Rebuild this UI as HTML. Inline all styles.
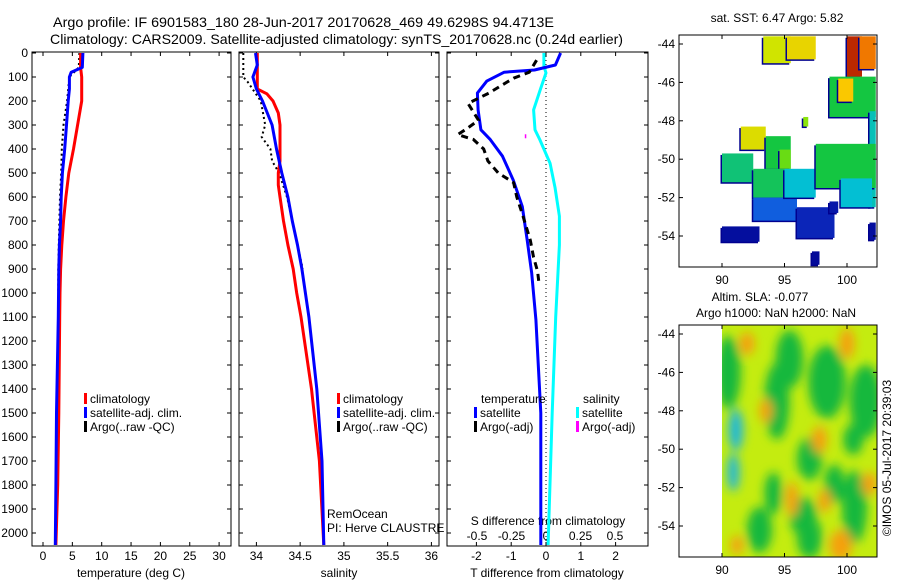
<!DOCTYPE html>
<html><head><meta charset="utf-8">
<style>
body{margin:0;background:#fff;}
svg{display:block;font-family:"Liberation Sans",sans-serif;}
text{font-size:12px;fill:#000;}
</style></head>
<body>
<svg id="c" width="900" height="580" viewBox="0 0 900 580" xmlns="http://www.w3.org/2000/svg">
<defs><filter id="blur" x="-20%" y="-20%" width="140%" height="140%"><feGaussianBlur stdDeviation="5"/></filter>
<clipPath id="slaclip"><rect x="722" y="325" width="155" height="232"/></clipPath></defs>
<text x="53" y="27" textLength="501" lengthAdjust="spacingAndGlyphs" style="font-size:14px">Argo profile: IF 6901583_180 28-Jun-2017 20170628_469 49.6298S 94.4713E</text>
<text x="50" y="44" textLength="573" lengthAdjust="spacingAndGlyphs" style="font-size:14px">Climatology: CARS2009. Satellite-adjusted climatology: synTS_20170628.nc (0.24d earlier)</text>
<g id="g"></g>
</svg>
<script>
// ---- data ----
const depthTicks=[0,100,200,300,400,500,600,700,800,900,1000,1100,1200,1300,1400,1500,1600,1700,1800,1900,2000];
const tempTicks=[0,5,10,15,20,25,30];
const salTicks=[34,34.5,35,35.5,36];
const tdTickVals=[-2,-1,0,1,2];
const tdTickLabels=['-2','-1','0','1','2'];
const sdTickVals=[-0.5,-0.25,0,0.25,0.5];
const sdTickLabels=['-0.5','-0.25','0','0.25','0.5'];

const tClimDepth=[0,60,100,200,300,400,500,600,700,800,900,1000,1100,1500,1800,2050];
const tClim=[6.4,6.4,6.6,6.6,5.9,5.2,4.4,3.9,3.5,3.2,3.0,2.9,2.85,2.7,2.5,2.2];
const tSatDepth=[0,60,80,100,150,200,300,400,500,600,700,800,900,1100,1500,1800,2050];
const tSat=[6.8,6.7,4.8,4.5,4.5,4.3,4.0,3.7,3.3,3.1,3.0,2.8,2.7,2.6,2.3,2.2,2.1];
const tArgoDepth=[0,60,100,200,300,400,500,600,700,800,900,1000];
const tArgo=[6.2,6.1,4.5,4.1,3.5,3.2,3.1,2.9,2.8,2.7,2.6,2.6];

const sClimDepth=[0,150,170,200,250,300,450,500,550,600,700,800,900,1000,1100,1400,1700,2050];
const sClim=[34.01,34.01,34.12,34.19,34.25,34.27,34.27,34.25,34.25,34.27,34.31,34.36,34.42,34.46,34.51,34.63,34.72,34.77];
const sSatDepth=[0,50,100,150,200,300,400,500,600,700,800,900,1000,1100,1400,1700,2050];
const sSat=[33.99,34.01,33.96,34.0,34.07,34.18,34.23,34.29,34.36,34.41,34.47,34.52,34.56,34.6,34.69,34.75,34.77];
const sArgoDepth=[0,100,120,200,300,350,400,450,500,600,700,800,900];
const sArgo=[33.85,33.85,33.9,34.05,34.1,34.06,34.16,34.18,34.26,34.35,34.41,34.47,34.53];

const dTSatDepth=[0,50,71,80,117,167,237,320,361,430,530,640,780,917,1111,1500,2050];
const dTSat=[0.42,0.27,-0.33,-1.2,-1.7,-1.97,-1.95,-1.87,-1.6,-1.25,-0.94,-0.68,-0.54,-0.41,-0.29,-0.15,-0.15];
const dTArgoDepth=[30,80,105,135,167,210,280,315,340,360,400,450,500,540,600,680,780,850,910,960];
const dTArgo=[-0.27,-0.48,-0.93,-1.28,-1.64,-2.24,-1.94,-2.27,-2.54,-2.09,-1.79,-1.67,-1.37,-0.93,-0.84,-0.66,-0.45,-0.36,-0.24,-0.2];
const dSSatDepth=[0,55,83,150,237,320,361,460,560,680,800,1100,1500,2050];
const dSSat=[-0.015,-0.015,0,-0.04,-0.09,-0.08,-0.045,0.03,0.065,0.097,0.097,0.07,0.045,0.015];
const dSArgoDepth=[347];
const dSArgo=[-0.15];

const mapLonTicks=[90,95,100];
const mapLatTicks=[-44,-46,-48,-50,-52,-54];
const sstLon0=[93.3,95.2,100,101,98.6,99.3,101.8,91.5,93.5,94.6,90,92.5,92.5,95,97.5,99.5,90,96,97.2,98.6,96.5,101.8];
const sstLon1=[95.5,97.5,101.2,102.3,102.3,100.5,102.3,93.5,95.5,95.5,92.5,95,96,97.5,102.3,102,93,99,97.8,99.3,96.9,102.3];
const sstLat0=[-43.6,-43.6,-43.6,-43.6,-45.7,-45.8,-47.5,-48.3,-48.8,-49.5,-49.7,-50.5,-52,-50.5,-49.2,-51,-53.5,-52.5,-54.8,-52.2,-47.8,-53.3];
const sstLat1=[-45.0,-44.8,-45.7,-45.3,-47.8,-47.0,-52.5,-49.5,-50.5,-50.5,-51.2,-52,-53.2,-52,-51.5,-52.5,-54.3,-54.1,-55.5,-52.8,-48.3,-54.2];
const sstVal=[0.68,0.72,0.95,0.85,0.5,0.75,0.35,0.7,0.5,0.6,0.42,0.45,0.18,0.32,0.5,0.32,0.03,0.08,0.02,0.05,0.62,0.03];
const slaLon=[90.5,91.1,90.9,94.4,95.4,97,98.4,99,101.5,100.6,94.1,96.5,97,93,100.5,99.5,92,95.6,98.2,91.2,100,97.8,93.5,101.8];
const slaLat=[-46,-49,-51.2,-47.5,-45.3,-50.5,-46.5,-51.8,-47.5,-53,-52.3,-53.5,-54.6,-54.2,-49.5,-55,-44.5,-52.6,-52.7,-55,-44.5,-49.5,-48,-51.8];
const slaRx=[1.0,0.6,0.5,1.0,1.1,1.0,1.5,0.8,1.3,1.0,0.7,1.1,1.0,1.0,0.8,0.9,0.6,0.5,0.5,0.5,0.6,0.6,0.5,0.6];
const slaRy=[1.9,1.1,1.0,2.0,1.5,1.1,1.9,1.0,1.9,1.9,1.1,1.0,1.1,1.2,0.8,0.8,0.6,0.9,0.6,0.5,0.8,0.7,0.6,0.6];
const slaKind=['g','c','c','g','g','g','g','g','g','g','g','g','g','g','g','o','o','o','o','o','o','o','o','o'];

// ---- scales ----
const yD=d=>53+d*0.24;
const xT=t=>43+t*5.87;
const xS=s=>256.4+(s-34)*87.5;
const xDT=d=>546+d*34.8;
const xDS=d=>546+d*138;
const xLon=l=>722+(l-90)*12.5;
const yLat1=l=>44+(-44-l)*19.2;
const yLat2=l=>334+(-44-l)*19.2;

const NS='http://www.w3.org/2000/svg';
const G=document.getElementById('g');
function mk(tag,attrs,parent){const e=document.createElementNS(NS,tag);for(const k in attrs)e.setAttribute(k,attrs[k]);(parent||G).appendChild(e);return e;}
function txt(x,y,s,anchor,parent){const e=mk('text',{x:x,y:y,'text-anchor':anchor||'start'},parent);e.textContent=s;return e;}

const panels=[[32,231,'temperature-panel'],[239,439,'salinity-panel'],[447,648,'difference-panel']];
const yTop=52,yBot=546;
panels.forEach(p=>{
  const r=mk('rect',{x:p[0],y:yTop,width:p[1]-p[0],height:yBot-yTop,fill:'none',stroke:'#000','stroke-width':1});
  
  
  depthTicks.forEach(d=>{
    mk('line',{x1:p[0],x2:p[0]+4,y1:yD(d),y2:yD(d),stroke:'#000'});
    mk('line',{x1:p[1]-4,x2:p[1],y1:yD(d),y2:yD(d),stroke:'#000'});
  });
});
depthTicks.forEach(d=>{
  const t=txt(28,yD(d)+4,String(d),'end');
  
  
});
function xticks(vals,labels,fx,name,ly){
  vals.forEach((v,i)=>{
    const x=fx(v);
    mk('line',{x1:x,x2:x,y1:yTop,y2:yTop+4,stroke:'#000'});
    mk('line',{x1:x,x2:x,y1:yBot-4,y2:yBot,stroke:'#000'});
    const t=txt(x,ly,labels[i],'middle');
    
    
  });
}
xticks(tempTicks,tempTicks.map(String),xT,'temperature-tick-label',560);
xticks(salTicks,salTicks.map(String),xS,'salinity-tick-label',560);
xticks(tdTickVals,tdTickLabels,xDT,'t-difference-tick-label',560);
sdTickVals.forEach((v,i)=>{const t=txt(xDS(v),540,sdTickLabels[i],'middle');
  
  });
[[131,'temperature (deg C)','temperature-axis-title'],[339,'salinity','salinity-axis-title'],[547,'T difference from climatology','t-difference-axis-title']].forEach(a=>{
  const t=txt(a[0],577,a[1],'middle');
  
  
});
const sdt=txt(548,525,'S difference from climatology','middle');


const zl=mk('line',{x1:546,x2:546,y1:yTop,y2:yBot,stroke:'#000','stroke-dasharray':'1,3'});



function series(vals,depths,fx,color,name,w,dash){
  const pts=vals.map((v,i)=>fx(v).toFixed(1)+','+yD(depths[i]).toFixed(1)).join(' ');
  const a={points:pts,fill:'none',stroke:color,'stroke-width':w||3,'stroke-linejoin':'round'};
  if(dash)a['stroke-dasharray']=dash;
  const e=mk('polyline',a);
  
  
}
series(tArgo,tArgoDepth,xT,'#000','temperature-argo-line',2,'2,3');
series(tClim,tClimDepth,xT,'#f00','temperature-climatology-line');
series(tSat,tSatDepth,xT,'#00f','temperature-satellite-line');
series(sArgo,sArgoDepth,xS,'#000','salinity-argo-line',2,'2,3');
series(sClim,sClimDepth,xS,'#f00','salinity-climatology-line');
series(sSat,sSatDepth,xS,'#00f','salinity-satellite-line');
series(dSSat,dSSatDepth,xDS,'#0ff','s-difference-satellite-line');
series(dTSat,dTSatDepth,xDT,'#00f','t-difference-satellite-line');
series(dTArgo,dTArgoDepth,xDT,'#000','t-difference-argo-line',3,'7,5');
dSArgo.forEach((v,i)=>{const e=mk('rect',{x:xDS(v)-0.5,y:yD(dSArgoDepth[i])-2,width:1.5,height:4,fill:'#f0f'});
  
  });

function legend(x,y,color,label,name){
  const g=mk('g',{});
  
  
  mk('rect',{x:x,y:y-10,width:3,height:11,fill:color},g);
  txt(x+6,y,label,'start',g);
}
legend(84,403,'#f00','climatology','legend-climatology');
legend(84,417,'#00f','satellite-adj. clim.','legend-satellite-adj');
legend(84,431,'#000','Argo(..raw -QC)','legend-argo');
legend(337,403,'#f00','climatology','legend-climatology-sal');
legend(337,417,'#00f','satellite-adj. clim.','legend-satellite-adj-sal');
legend(337,431,'#000','Argo(..raw -QC)','legend-argo-sal');
const lt=txt(481,403,'temperature');
const ls=txt(583,403,'salinity');
legend(474,417,'#00f','satellite','legend-t-satellite');
legend(474,431,'#000','Argo(-adj)','legend-t-argo');
legend(576,417,'#0ff','satellite','legend-s-satellite');
legend(576,431,'#f0f','Argo(-adj)','legend-s-argo');
const r1=txt(327,518,'RemOcean');
const r2=txt(327,532,'PI: Herve CLAUSTRE');

const cmapStops=[[0,[0,0,143]],[0.15,[20,70,220]],[0.3,[0,190,230]],[0.45,[20,195,90]],[0.55,[20,200,40]],[0.65,[190,240,0]],[0.75,[250,200,0]],[0.85,[240,120,0]],[1,[160,0,0]]];
function cmap(v){
  for(let i=1;i<cmapStops.length;i++){
    if(v<=cmapStops[i][0]){
      const a=cmapStops[i-1],b=cmapStops[i],f=(v-a[0])/(b[0]-a[0]);
      return 'rgb('+a[1].map((c,k)=>Math.round(c+(b[1][k]-c)*f)).join(',')+')';
    }
  }
  return 'rgb(160,0,0)';
}
function mapFrame(y0,y1,yLat,name){
  const f=mk('rect',{x:679,y:y0,width:198,height:y1-y0,fill:'none',stroke:'#000'});
  
  
  mapLonTicks.forEach(l=>{
    mk('line',{x1:xLon(l),x2:xLon(l),y1:y1-4,y2:y1,stroke:'#000'});
    mk('line',{x1:xLon(l),x2:xLon(l),y1:y0,y2:y0+4,stroke:'#000'});
    const t=txt(xLon(l),y1+17,String(l),'middle');
    
    
  });
  mapLatTicks.forEach(l=>{
    mk('line',{x1:679,x2:683,y1:yLat(l),y2:yLat(l),stroke:'#000'});
    mk('line',{x1:873,x2:877,y1:yLat(l),y2:yLat(l),stroke:'#000'});
    const t=txt(675,yLat(l)+4,String(l),'end');
    
    
  });
}
const sstG=mk('g',{});


sstVal.forEach((v,i)=>{
  const x0=xLon(sstLon0[i]),x1=xLon(sstLon1[i]),y0=yLat1(sstLat0[i]),y1=yLat1(sstLat1[i]);
  mk('rect',{x:x0-1.5,y:y0+1.5,width:x1-x0,height:y1-y0,fill:'#00008f'},sstG);
  const e=mk('rect',{x:x0,y:y0,width:x1-x0,height:y1-y0,fill:cmap(v)},sstG);
  
  
});
mk('rect',{x:877,y:35,width:20,height:235,fill:'#fff'});
mapFrame(35,267,yLat1,'sst-map-frame');
const st=txt(777,22,'sat. SST: 6.47 Argo: 5.82','middle');

const slaG=mk('g',{'clip-path':'url(#slaclip)'});


mk('rect',{x:722,y:325,width:155,height:232,fill:'#c4ec10'},slaG);
const bg=mk('g',{filter:'url(#blur)'},slaG);
const kcol={g:'#18b83c',c:'#20b8d8',o:'#f5a010'};
slaKind.forEach((k,i)=>{
  const e=mk('ellipse',{cx:xLon(slaLon[i]),cy:yLat2(slaLat[i]),rx:slaRx[i]*12.5,ry:slaRy[i]*19.2,fill:kcol[k]},bg);
  
  
});
mapFrame(325,557,yLat2,'sla-map-frame');
const a1=txt(760,301,'Altim. SLA: -0.077','middle');
const a2=txt(776,317,'Argo h1000: NaN h2000: NaN','middle');
const im=txt(0,0,'©IMOS 05-Jul-2017 20:39:03','middle');
im.setAttribute('transform','translate(891,458) rotate(-90)');


</script>
</body></html>
